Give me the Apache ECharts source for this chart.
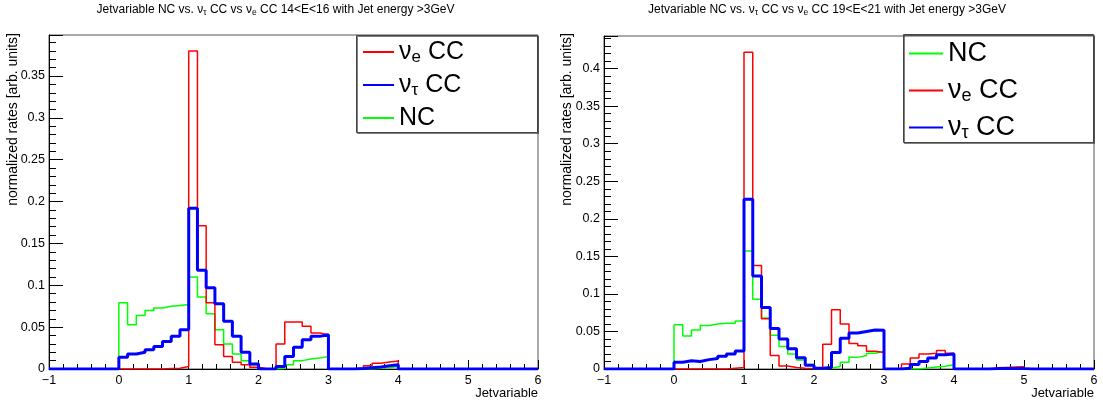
<!DOCTYPE html>
<html><head><meta charset="utf-8">
<script src="https://cdn.jsdelivr.net/npm/echarts@6/dist/echarts.min.js"></script>
<style>html,body{margin:0;padding:0;background:#fff}#c{width:1103px;height:405px}</style>
</head><body><div id="c"></div>
<script>
// ---- histogram binning (56 bins from -1 to 6) ----
const binStart = -1;
const binWidth = 0.125;

// ---- Left pad: 14<E<16 ----
const leftNC = [0,0,0,0,0,0,0,0,
  0.079,0.053,0.064,0.070,0.073,0.075,0.076,0.077,
  0.110,0.086,0.066,0.047,0.030,0.018,0.010,0.005,
  0,0,0.001,0.005,0.010,0.012,0.013,0.015,
  0,0,0,0,0,0.001,0.0015,0.003,
  0,0,0,0,0,0,0,0, 0,0,0,0,0,0,0,0];
const leftNuE = [0,0,0,0,0,0,0,0,
  0,0,0,0,0,0.0005,0.001,0.003,
  0.380,0.171,0.079,0.029,0.015,0.008,0.005,0.002,
  0,0,0.030,0.056,0.056,0.051,0.043,0.041,
  0,0,0,0.001,0.004,0.007,0.0085,0.0095,
  0,0,0,0,0,0,0,0, 0,0,0,0,0,0,0,0];
const leftNuTau = [0,0,0,0,0,0,0,0,
  0.014,0.018,0.020,0.023,0.027,0.033,0.039,0.047,
  0.192,0.118,0.097,0.078,0.057,0.039,0.020,0.006,
  0,0,0.003,0.015,0.026,0.035,0.039,0.041,
  0,0,0,0.0005,0.0015,0.0025,0.004,0.005,
  0,0,0,0,0,0,0,0, 0,0,0,0,0,0,0,0];

// ---- Right pad: 19<E<21 ----
const rightNC = [0,0,0,0,0,0,0,0,
  0.059,0.044,0.052,0.058,0.060,0.061,0.061,0.064,
  0.157,0.093,0.068,0.045,0.030,0.020,0.012,0.006,
  0,0.001,0.0035,0.009,0.0155,0.018,0.021,0.0235,
  0,0,0,0,0.0013,0.0027,0.0036,0.0058,
  0,0,0,0,0,0,0,0, 0,0,0,0,0,0,0,0];
const rightNuE = [0,0,0,0,0,0,0,0,
  0,0,0,0,0,0,0.001,0.002,
  0.422,0.138,0.067,0.018,0.004,0.002,0.001,0.0005,
  0,0.033,0.079,0.060,0.034,0.031,0.0235,0.022,
  0,0,0.0067,0.0147,0.020,0.021,0.0245,0.021,
  0,0,0,0,0.0015,0.002,0.0025,0.003, 0,0,0,0,0,0,0,0];
const rightNuTau = [0,0,0,0,0,0,0,0,
  0.009,0.011,0.010,0.0125,0.014,0.017,0.020,0.024,
  0.226,0.124,0.082,0.054,0.040,0.027,0.015,0.005,
  0.001,0.002,0.022,0.041,0.048,0.050,0.052,0.0515,
  0,0,0.001,0.006,0.010,0.0145,0.019,0.020,
  0,0,0,0,0.0005,0.0005,0.0005,0.0005, 0,0,0,0,0,0,0,0];

// ---- axes ----
const xMin = -1, xMax = 6, xStep = 1;
const leftYMax = 0.399, rightYMax = 0.4435, yStep = 0.05;

const titles = [
  'Jetvariable NC vs. {n|ν}{s|τ} CC vs {n|ν}{s|e} CC 14<E<16 with Jet energy >3GeV',
  'Jetvariable NC vs. {n|ν}{s|τ} CC vs {n|ν}{s|e} CC 19<E<21 with Jet energy >3GeV'
];
const xTitle = 'Jetvariable';
const yTitle = 'normalized rates [arb. units]';
const nameNC = 'NC', nameE = 'νe CC', nameTau = 'ντ CC';

const FONT = '"Liberation Sans", Arial, Helvetica, sans-serif';
const RED = '#ff0000', BLUE = '#0000ff', GREEN = '#00ff00';

function steps(vals) {
  const pts = vals.map((v, i) => [binStart + i * binWidth, v]);
  pts.push([binStart + vals.length * binWidth, vals[vals.length - 1]]);
  return pts;
}
function hist(name, vals, color, width, idx, z) {
  return {
    name, type: 'line', step: 'end', data: steps(vals), xAxisIndex: idx, yAxisIndex: idx,
    symbol: 'none', showSymbol: false, silent: true, animation: false, z,
    lineStyle: { color, width }, itemStyle: { color }
  };
}
function xAxis(idx) {
  return {
    gridIndex: idx, type: 'value', min: xMin, max: xMax, interval: xStep,
    axisLine: { show: true, onZero: false, lineStyle: { color: '#000', width: 1 } },
    axisTick: { show: true, inside: true, length: 9, lineStyle: { color: '#000' } },
    minorTick: { show: true, splitNumber: 5, length: 5, lineStyle: { color: '#000' } },
    splitLine: { show: false },
    axisLabel: { color: '#000', fontSize: 12.5, fontFamily: FONT, margin: 5,
      formatter: v => (v < 0 ? '\u2212' + Math.abs(v) : String(v)) }
  };
}
function yAxis(idx, max) {
  return {
    gridIndex: idx, type: 'value', min: 0, max, interval: yStep,
    axisLine: { show: true, onZero: false, lineStyle: { color: '#000', width: 1 } },
    axisTick: { show: true, inside: true, length: 14, lineStyle: { color: '#000' } },
    minorTick: { show: true, splitNumber: 5, length: 7, lineStyle: { color: '#000' } },
    splitLine: { show: false },
    axisLabel: { color: '#000', fontSize: 12.5, fontFamily: FONT, margin: 4,
      formatter: v => {
        const k = v / yStep;
        return Math.abs(k - Math.round(k)) < 1e-6 ? String(+v.toFixed(2)) : '';
      } }
  };
}
function legendFmt(name) {
  if (name === nameNC) return '{n|NC}';
  return '{n|ν}{s|' + (name === nameE ? 'e' : 'τ') + '}{n| CC}';
}
function legend(left, top, data, fs, lh, gap, iw) {
  return {
    orient: 'vertical', left, top, itemWidth: iw, itemHeight: 2, itemGap: gap, icon: 'rect',
    selectedMode: false, data, formatter: legendFmt, padding: 0,
    textStyle: { color: '#000', fontFamily: FONT, fontSize: fs, lineHeight: lh,
      rich: {
        n: { fontSize: fs, lineHeight: lh, fontFamily: FONT, color: '#000' },
        s: { fontSize: Math.round(fs * 0.68), lineHeight: 8, verticalAlign: 'bottom', fontFamily: FONT, color: '#000' }
      } }
  };
}
function titleText(x, text) {
  return { type: 'text', x, y: 10, silent: true,
    style: { text, align: 'center', verticalAlign: 'middle', fontSize: 12, fontFamily: FONT,
      fill: '#000', lineHeight: 15,
      rich: { n: { fontSize: 12, lineHeight: 15, fontFamily: FONT },
              s: { fontSize: 8.5, lineHeight: 6, verticalAlign: 'bottom', fontFamily: FONT } } } };
}

const chart = echarts.init(document.getElementById('c'), null, { renderer: 'canvas' });
chart.setOption({
  animation: false,
  backgroundColor: '#fff',
  grid: [
    { left: 49, top: 35, width: 489, height: 334, show: true, borderColor: '#555', borderWidth: 1, containLabel: false },
    { left: 604, top: 36, width: 490, height: 333, show: true, borderColor: '#555', borderWidth: 1, containLabel: false }
  ],
  xAxis: [xAxis(0), xAxis(1)],
  yAxis: [yAxis(0, leftYMax), yAxis(1, rightYMax)],
  legend: [
    legend(363, 38, [nameE, nameTau, nameNC], 25, 28, 5, 31),
    legend(909, 39, [nameNC, nameE, nameTau], 27, 29, 8, 34)
  ],
  graphic: [
    titleText(275.5, titles[0]),
    titleText(827, titles[1]),
    { type: 'text', x: 538, y: 393, silent: true,
      style: { text: xTitle, align: 'right', verticalAlign: 'middle', fontSize: 13, fontFamily: FONT, fill: '#000' } },
    { type: 'text', x: 1094, y: 393, silent: true,
      style: { text: xTitle, align: 'right', verticalAlign: 'middle', fontSize: 13, fontFamily: FONT, fill: '#000' } },
    { type: 'text', x: 13, y: 33, rotation: Math.PI / 2, silent: true,
      style: { text: yTitle, align: 'right', verticalAlign: 'middle', fontSize: 14, fontFamily: FONT, fill: '#000' } },
    { type: 'text', x: 567, y: 33, rotation: Math.PI / 2, silent: true,
      style: { text: yTitle, align: 'right', verticalAlign: 'middle', fontSize: 14, fontFamily: FONT, fill: '#000' } },
    { type: 'rect', silent: true, z: 3, shape: { x: 356.5, y: 35.5, width: 181, height: 97 },
      style: { fill: 'none', stroke: '#444', lineWidth: 1, shadowColor: 'rgba(0,0,0,0.5)', shadowOffsetX: 1, shadowOffsetY: 1 } },
    { type: 'rect', silent: true, z: 3, shape: { x: 903.5, y: 34.5, width: 190, height: 108 },
      style: { fill: 'none', stroke: '#444', lineWidth: 1, shadowColor: 'rgba(0,0,0,0.5)', shadowOffsetX: 1, shadowOffsetY: 1 } }
  ],
  series: [
    hist(nameNC, leftNC, GREEN, 1.5, 0, 2),
    hist(nameE, leftNuE, RED, 1.5, 0, 3),
    hist(nameTau, leftNuTau, BLUE, 3, 0, 4),
    hist(nameNC, rightNC, GREEN, 1.5, 1, 2),
    hist(nameE, rightNuE, RED, 1.5, 1, 3),
    hist(nameTau, rightNuTau, BLUE, 3, 1, 4)
  ]
});
</script>
</body></html>
